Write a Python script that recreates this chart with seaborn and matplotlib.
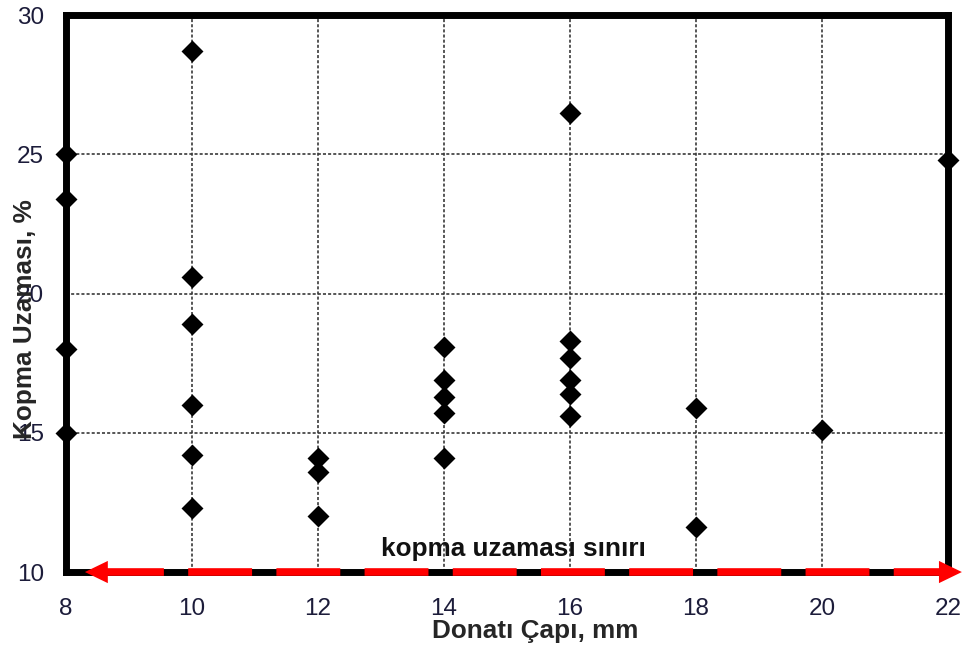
import numpy as np
import pandas as pd
import matplotlib
matplotlib.use("Agg")
import matplotlib.pyplot as plt
import seaborn as sns

# Donatı çapı (mm) ve kopma uzaması (%) değerleri
donati_capi = [8, 8, 8, 8,
               10, 10, 10, 10, 10, 10,
               12, 12, 12,
               14, 14, 14, 14, 14,
               16, 16, 16, 16, 16, 16,
               18, 18,
               20,
               22]
kopma_uzamasi = [25.0, 23.4, 18.0, 15.0,
                 28.7, 20.6, 18.9, 16.0, 14.2, 12.3,
                 14.1, 13.6, 12.0,
                 18.1, 16.9, 16.3, 15.7, 14.1,
                 26.5, 18.3, 17.7, 16.9, 16.4, 15.6,
                 15.9, 11.6,
                 15.1,
                 24.8]
x_ticks = [8, 10, 12, 14, 16, 18, 20, 22]
y_ticks = [10, 15, 20, 25, 30]
sinir_degeri = 10
sinir_etiketi = "kopma uzaması sınırı"

df = pd.DataFrame({"cap": donati_capi, "uzama": kopma_uzamasi})

sns.set_style("white")
plt.rcParams["font.family"] = ["Liberation Sans", "DejaVu Sans"]
plt.rcParams["lines.scale_dashes"] = False

fig = plt.figure(figsize=(9.65, 6.49), dpi=100)
ax = fig.add_axes([0.0684, 0.1186, 0.914, 0.858])

# ızgara çizgileri
for xv in x_ticks[1:-1]:
    ax.axvline(xv, color="#3a3a3a", lw=1.2, dashes=(2.2, 1.5), zorder=1)
for yv in y_ticks[1:-1]:
    ax.axhline(yv, color="#3a3a3a", lw=1.2, dashes=(2.2, 1.5), zorder=1)

sns.scatterplot(data=df, x="cap", y="uzama", marker="D", s=125, color="black",
                linewidth=0, ax=ax, zorder=5, clip_on=False)

ax.set_xlim(8, 22)
ax.set_ylim(10, 30)
ax.set_xticks(x_ticks)
ax.set_yticks(y_ticks)

for sp in ax.spines.values():
    sp.set_linewidth(5)
    sp.set_color("black")
    sp.set_zorder(3)

ax.tick_params(axis="both", direction="out", length=3, width=1, color="black",
               labelsize=17.5, labelcolor="#1c1c3a")
ax.tick_params(axis="x", pad=16)
ax.tick_params(axis="y", pad=13)

# kopma uzaması sınırı: kırmızı kesikli çift yönlü ok
ax.plot([8.54, 21.9], [sinir_degeri, sinir_degeri], color="red", lw=5.5,
        dashes=(46, 17.5), solid_capstyle="butt", dash_capstyle="butt",
        zorder=6, clip_on=False)
ax.annotate("", xy=(22.22, sinir_degeri), xytext=(8.3, sinir_degeri),
            arrowprops=dict(arrowstyle="<|-|>,head_length=1.65,head_width=0.8",
                            fc="red", ec="red", lw=0, mutation_scale=10,
                            shrinkA=0, shrinkB=0),
            annotation_clip=False, zorder=7)
ax.text(15.1, 10.83, sinir_etiketi, ha="center", va="center",
        fontsize=18.8, fontweight="bold", color="#111111", zorder=8)

ax.set_xlabel("Donatı Çapı, mm", fontsize=18.8, fontweight="bold")
ax.xaxis.set_label_coords(0.532, -0.084)
ax.set_ylabel("Kopma Uzaması, %", fontsize=18.8, fontweight="bold")
ax.yaxis.set_label_coords(-0.0465, 0.455)
ax.yaxis.label.set_verticalalignment("center")

fig.savefig("out.png", dpi=100)
